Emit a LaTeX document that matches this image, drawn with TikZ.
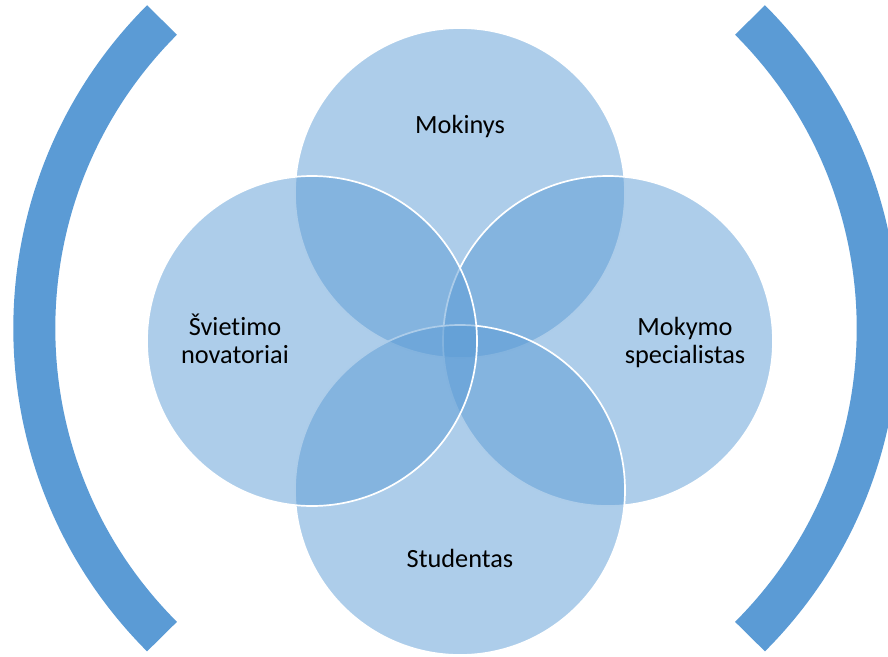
\documentclass[tikz,border=0pt]{standalone}
\usepackage{fontspec}
\setmainfont{Carlito}[Ligatures=NoCommon]
\definecolor{accent}{HTML}{5B9BD5}
\begin{document}
\begin{tikzpicture}[x=1pt,y=-1pt,
  venn/.style={circle, minimum size=330pt, inner sep=0pt, fill=accent, fill opacity=0.5, draw=white, draw opacity=1, line width=1.7pt},
  lbl/.style={anchor=base, inner sep=0pt, font=\fontsize{26.3}{28}\selectfont, text=black},
  brace/.style={draw=accent, line width=42pt, line cap=butt}]
\useasboundingbox (0,0) rectangle (888,656);
\clip (0,0) rectangle (888,656);
% brackets
\draw[brace] (162,20) arc[start angle=225, end angle=135, radius=436];
\draw[brace] (750,20) arc[start angle=-45, end angle=45, radius=436];
% circles
\node[venn] (top) at (460,193) {};
\node[venn] (right) at (608,341) {};
\node[venn] (bottom) at (460,490) {};
\node[venn] (left) at (312,341) {};
% labels
\node[lbl] (tl) at (460,133) {Mokinys};
\node[lbl] (ll1) at (235,335) {Švietimo};
\node[lbl] (ll2) at (235,363) {novatoriai};
\node[lbl] (rl1) at (685,335) {Mokymo};
\node[lbl] (rl2) at (685,363) {specialistas};
\node[lbl] (bl) at (460,567) {Studentas};
\end{tikzpicture}
\end{document}
